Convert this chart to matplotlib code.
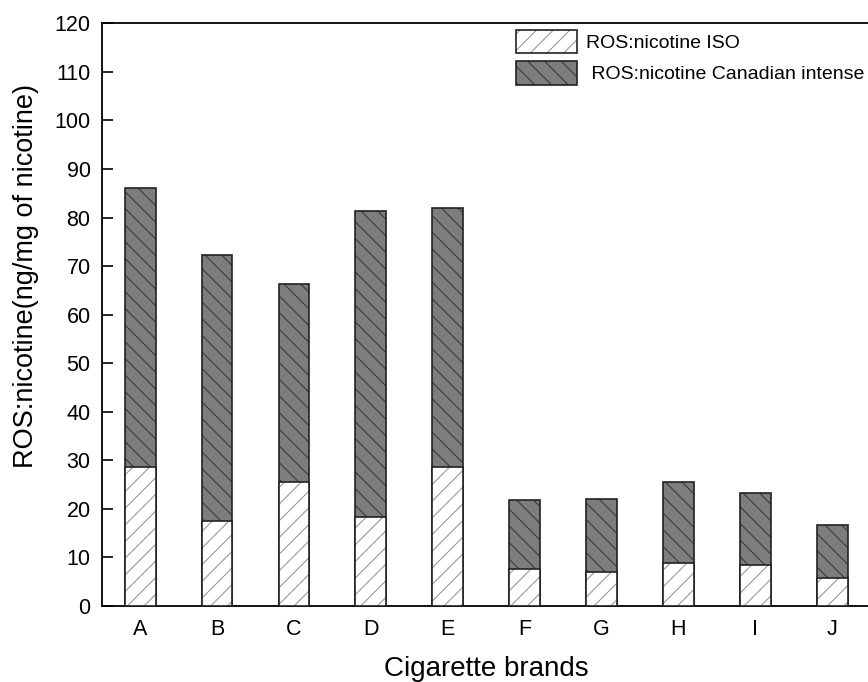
import numpy as np
import matplotlib.pyplot as plt
from matplotlib.patches import Patch

# values (ng/mg of nicotine)
brands = ["A", "B", "C", "D", "E", "F", "G", "H", "I", "J"]
ros_iso = [28.6, 17.5, 25.5, 18.4, 28.6, 7.6, 7.0, 8.8, 8.4, 5.8]
ros_canadian = [86.1, 72.3, 66.4, 81.3, 81.9, 21.9, 22.0, 25.5, 23.3, 16.7]

plt.rcParams["font.family"] = ["Liberation Sans", "DejaVu Sans"]
plt.rcParams["hatch.linewidth"] = 0.8

fig = plt.figure(figsize=(8.68, 6.82), dpi=100)
ax = fig.add_axes([0.1172, 0.1114, 0.8858, 0.8544])

x = np.arange(1, len(brands) + 1)
width = 0.4
outline = "#222222"

# Canadian intense bars (full height), dark with dark hatch
ax.bar(x, ros_canadian, width, color="#7d7d7d", edgecolor="#3a3a3a",
       hatch="\\\\", linewidth=0, zorder=2)
ax.bar(x, ros_canadian, width, fill=False, edgecolor=outline,
       linewidth=1.2, zorder=3)

# ISO bars on top, white with light hatch
ax.bar(x, ros_iso, width, color="white", edgecolor="#9a9a9a",
       hatch="//", linewidth=0, zorder=4)
ax.bar(x, ros_iso, width, fill=False, edgecolor=outline,
       linewidth=1.2, zorder=5)

ax.set_xlim(0.5, 10.5)
ax.set_ylim(0, 120)
ax.set_yticks(np.arange(0, 121, 10))
ax.set_xticks(x)
ax.set_xticklabels(brands)

ax.tick_params(axis="y", direction="in", length=8, width=1.2, pad=8,
               labelsize=15.5)
ax.tick_params(axis="x", length=0, pad=9, labelsize=15.5)
for side in ["left", "bottom", "top", "right"]:
    ax.spines[side].set_linewidth(1.3)

ax.set_xlabel("Cigarette brands", fontsize=20, labelpad=12)
ax.set_ylabel("ROS:nicotine(ng/mg of nicotine)", fontsize=19.5)
ax.yaxis.set_label_coords(-0.082, 0.566)

iso_handle = (Patch(facecolor="white", edgecolor="#9a9a9a", hatch="//", linewidth=0),
              Patch(fill=False, edgecolor=outline, linewidth=1.2))
can_handle = (Patch(facecolor="#7d7d7d", edgecolor="#3a3a3a", hatch="\\\\", linewidth=0),
              Patch(fill=False, edgecolor=outline, linewidth=1.2))
ax.legend([iso_handle, can_handle],
          ["ROS:nicotine ISO", " ROS:nicotine Canadian intense"],
          loc="upper left", bbox_to_anchor=(0.586, 0.968),
          bbox_transform=fig.transFigure, frameon=False, fontsize=14,
          handlelength=3.1, handleheight=1.45, handletextpad=0.5,
          labelspacing=0.45, borderaxespad=0)

fig.savefig("out.png", dpi=100)
